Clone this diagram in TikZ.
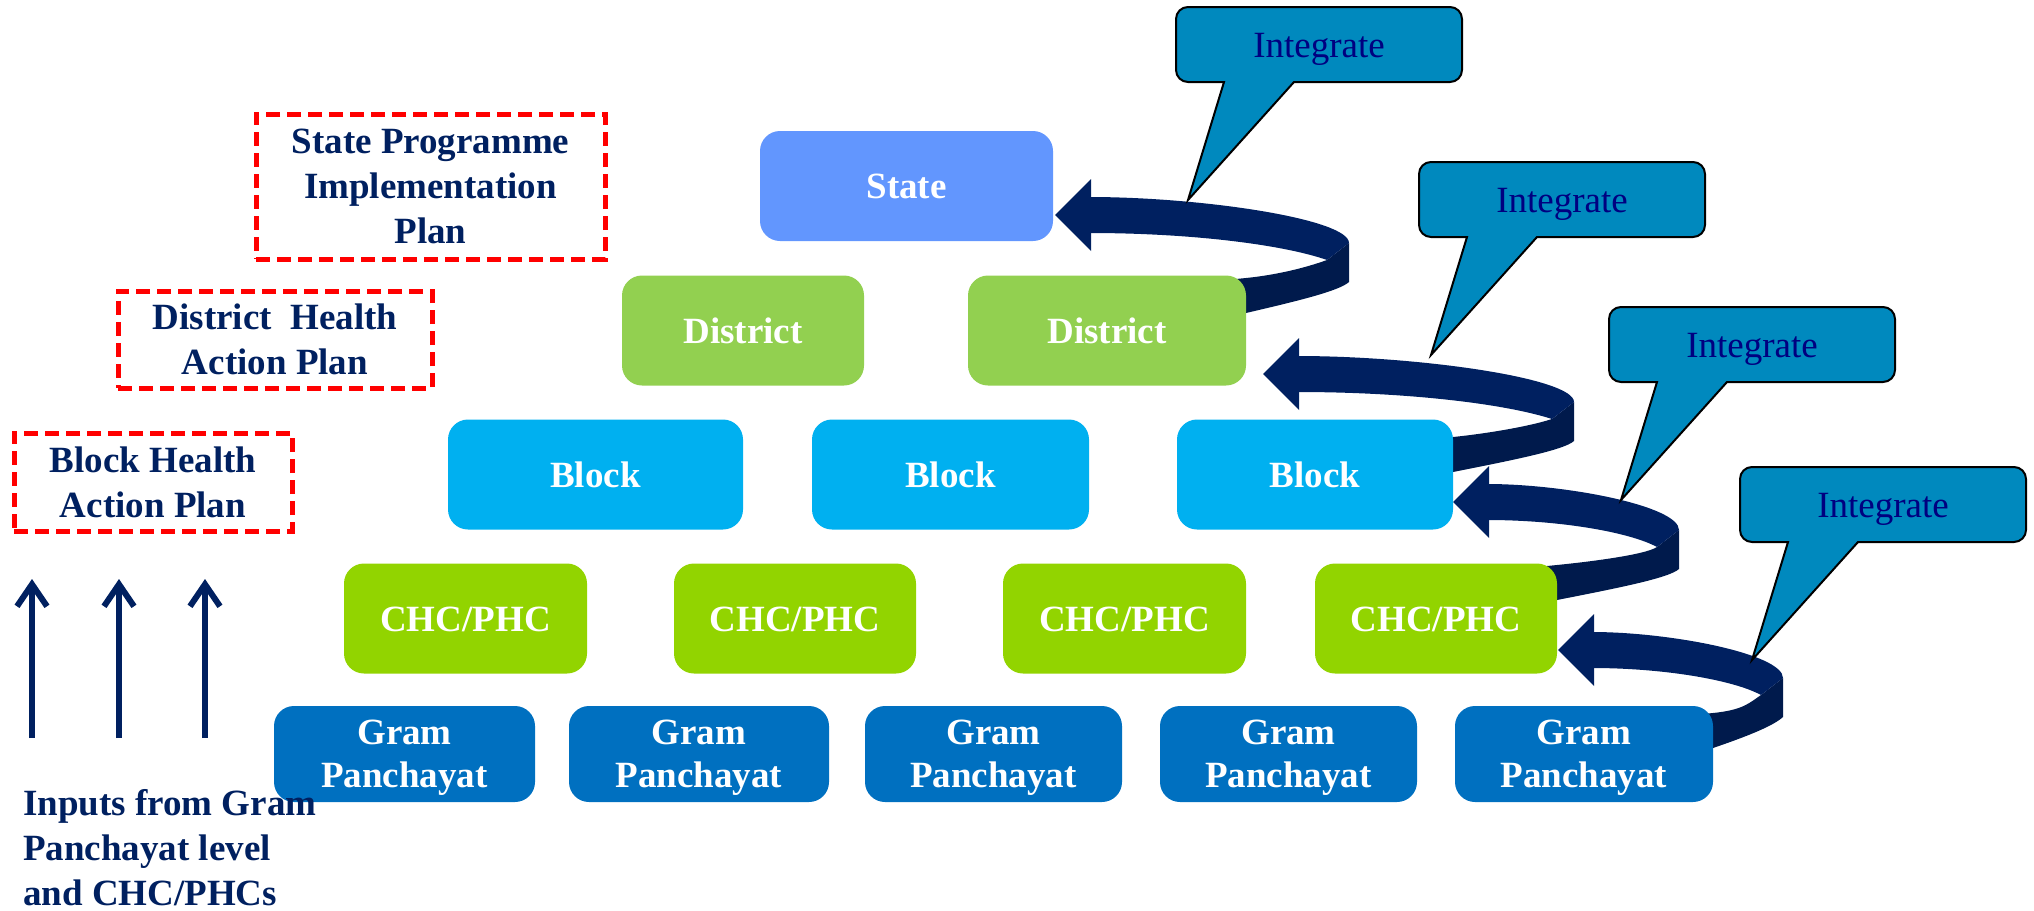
\documentclass[tikz,border=0pt]{standalone}
\usepackage{fontspec}
\setmainfont{Liberation Serif}
\usetikzlibrary{arrows.meta}
\definecolor{cState}{RGB}{98,150,254}
\definecolor{cDist}{RGB}{146,208,80}
\definecolor{cBlock}{RGB}{0,176,240}
\definecolor{cChc}{RGB}{146,212,0}
\definecolor{cGram}{RGB}{0,112,192}
\definecolor{cNavy}{RGB}{0,32,96}
\definecolor{cSide}{RGB}{0,26,76}
\definecolor{cCall}{RGB}{0,137,190}
\definecolor{cCallText}{RGB}{0,0,128}
\definecolor{cRed}{RGB}{255,0,0}
\tikzset{
  box/.style={rounded corners=20pt, inner sep=0pt, text=white,
    font=\bfseries\fontsize{37}{43}\selectfont, align=center},
  oneline/.style={text height=25pt, text depth=0pt},
  rowS/.style={minimum height=110pt},
  rowG/.style={minimum height=96pt, fill=cGram},
  plan/.style={draw=cRed, line width=5pt, dash pattern=on 14pt off 7pt,
    inner sep=0pt, text=cNavy, align=center,
    font=\bfseries\fontsize{37}{45}\selectfont},
  ribtop/.style={fill=cNavy},
  ribside/.style={fill=cSide},
  callshape/.style={fill=cCall, draw=black, line width=2pt, line join=miter},
  calltext/.style={text=cCallText, inner sep=0pt, anchor=base,
    font=\fontsize{37}{43}\selectfont},
  uparrow/.style={draw=cNavy, line width=6pt,
    -{Straight Barb[length=22pt,width=30pt]}},
}
% ribbon arrow: #1 tip x, #2 tip y, #3 loop length, #4 box-edge offset
\newcommand\ribbonarrow[4]{%
\begin{scope}[shift={(#1,#2)}]
 \fill[ribside] (#3,28) -- ({#3-22},45)
   .. controls ({0.85*#3},53) and ({#4+30},60) .. (#4,63)
   -- ({#4-30},66) -- ({#4-30},100) -- (#4,98)
   .. controls ({#4+0.5*(#3-#4)},86) and ({#3-10},76) .. (#3,67) -- cycle;
 \fill[ribtop] (34,-18) .. controls ({0.5*#3},-18) and (#3,4) .. (#3,28)
   -- ({#3-22},45) .. controls ({0.78*#3},30) and ({0.47*#3},18) .. (34,18) -- cycle;
 \fill[ribtop] (0,0) -- (36,-36) -- (36,36) -- cycle;
\end{scope}}
% callout: #1 left x, #2 top y, #3 name
\newcommand\calloutbox[3]{%
 \filldraw[callshape] ({#1+118},{#2+75}) [rounded corners=12pt] -- ({#1+286},{#2+75})
   -- ({#1+286},#2) -- (#1,#2) -- (#1,{#2+75}) [sharp corners] -- ({#1+48},{#2+75})
   -- ({#1+12},{#2+193}) -- cycle;
 \node[calltext] (#3) at ({#1+143},{#2+50}) {Integrate};}
\begin{document}
\begin{tikzpicture}[x=1pt,y=-1pt]
\useasboundingbox (0,0) rectangle (2034,910);

% ribbon arrows (behind boxes)
\ribbonarrow{1055}{215}{294}{191}
\ribbonarrow{1263}{374}{311}{190}
\ribbonarrow{1453}{502}{226}{104}
\ribbonarrow{1558}{650}{225}{155}

% hierarchy boxes
\node[box, oneline, rowS, fill=cState, minimum width=293pt] (state) at (906.5,186) {State};
\node[box, oneline, rowS, fill=cDist, minimum width=242pt] (d1) at (743,330.5) {District};
\node[box, oneline, rowS, fill=cDist, minimum width=278pt] (d2) at (1107,330.5) {District};
\node[box, oneline, rowS, fill=cBlock, minimum width=295pt] (b1) at (595.5,474.5) {Block};
\node[box, oneline, rowS, fill=cBlock, minimum width=277pt] (b2) at (950.5,474.5) {Block};
\node[box, oneline, rowS, fill=cBlock, minimum width=276pt] (b3) at (1315,474.5) {Block};
\node[box, oneline, rowS, fill=cChc, minimum width=243pt] (c1) at (465.5,618.5) {CHC/PHC};
\node[box, oneline, rowS, fill=cChc, minimum width=242pt] (c2) at (795,618.5) {CHC/PHC};
\node[box, oneline, rowS, fill=cChc, minimum width=243pt] (c3) at (1124.5,618.5) {CHC/PHC};
\node[box, oneline, rowS, fill=cChc, minimum width=242pt] (c4) at (1436,618.5) {CHC/PHC};
\node[box, rowG, minimum width=261pt] (g1) at (404.5,754) {Gram\\\smash{Panchayat}};
\node[box, rowG, minimum width=260pt] (g2) at (699,754) {Gram\\\smash{Panchayat}};
\node[box, rowG, minimum width=257pt] (g3) at (993.5,754) {Gram\\\smash{Panchayat}};
\node[box, rowG, minimum width=257pt] (g4) at (1288.5,754) {Gram\\\smash{Panchayat}};
\node[box, rowG, minimum width=258pt] (g5) at (1584,754) {Gram\\\smash{Panchayat}};

% plan labels
\node[plan, minimum width=349pt, minimum height=145pt] (spip) at (430.5,186.5)
  {State Programme\\Implementation\\Plan};
\node[plan, minimum width=314pt, minimum height=97pt] (dhap) at (275,339.5)
  {District\ \ Health\\Action Plan};
\node[plan, minimum width=278pt, minimum height=98pt] (bhap) at (153,482)
  {Block Health\\Action Plan};

% input arrows
\coordinate (u1s) at (32,738);  \coordinate (u1e) at (32,579);
\coordinate (u2s) at (119,738); \coordinate (u2e) at (119,579);
\coordinate (u3s) at (205,738); \coordinate (u3e) at (205,579);
\draw[uparrow] (u1s) -- (u1e);
\draw[uparrow] (u2s) -- (u2e);
\draw[uparrow] (u3s) -- (u3e);

\node[anchor=north west, inner sep=0pt, align=left, text=cNavy,
  font=\bfseries\fontsize{37}{45}\selectfont] (inputs) at (23,789)
  {Inputs from Gram\\Panchayat level\\and CHC/PHCs};

% callouts
\calloutbox{1176}{7}{int1}
\calloutbox{1419}{162}{int2}
\calloutbox{1609}{307}{int3}
\calloutbox{1740}{467}{int4}
\end{tikzpicture}
\end{document}
